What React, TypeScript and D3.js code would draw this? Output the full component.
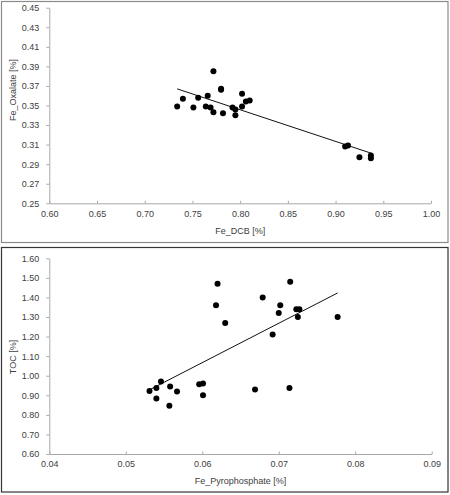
import React, { useEffect, useRef } from 'react';
import * as d3 from 'd3';

// Panel 1: Fe_DCB vs Fe_Oxalate
const dcb = [0.734, 0.740, 0.751, 0.756, 0.766, 0.764, 0.769, 0.772, 0.772, 0.780, 0.780, 0.782, 0.792, 0.795, 0.795, 0.802, 0.802, 0.806, 0.810, 0.910, 0.913, 0.925, 0.937, 0.937];
const oxalate = [0.349, 0.357, 0.348, 0.358, 0.360, 0.349, 0.348, 0.343, 0.385, 0.367, 0.366, 0.342, 0.348, 0.346, 0.340, 0.362, 0.349, 0.354, 0.355, 0.308, 0.309, 0.297, 0.299, 0.296];
const trend1X = [0.734, 0.938];
const trend1Y = [0.367, 0.301];
const xTicks1 = [0.60, 0.65, 0.70, 0.75, 0.80, 0.85, 0.90, 0.95, 1.00];
const yTicks1 = [0.25, 0.27, 0.29, 0.31, 0.33, 0.35, 0.37, 0.39, 0.41, 0.43, 0.45];

// Panel 2: Fe_Pyrophosphate vs TOC
const pyro = [0.0531, 0.0540, 0.0540, 0.0546, 0.0558, 0.0557, 0.0567, 0.0596, 0.0601, 0.0601, 0.0620, 0.0618, 0.0630, 0.0669, 0.0679, 0.0692, 0.0700, 0.0702, 0.0715, 0.0714, 0.0723, 0.0727, 0.0725, 0.0777];
const toc = [0.922, 0.937, 0.883, 0.970, 0.945, 0.847, 0.919, 0.956, 0.960, 0.900, 1.470, 1.360, 1.270, 0.930, 1.400, 1.210, 1.320, 1.360, 1.480, 0.937, 1.340, 1.340, 1.300, 1.300];
const trend2X = [0.0532, 0.0777];
const trend2Y = [0.930, 1.423];
const xTicks2 = [0.04, 0.05, 0.06, 0.07, 0.08, 0.09];
const yTicks2 = [0.60, 0.70, 0.80, 0.90, 1.00, 1.10, 1.20, 1.30, 1.40, 1.50, 1.60];

const FONT = '"Liberation Sans", Arial, sans-serif';

const App = () => {
  const svgRef = useRef<SVGSVGElement>(null);

  useEffect(() => {
    const svg = d3.select(svgRef.current);
    svg.selectAll('*').remove();

    const drawPanel = (opts: any) => {
      const { box, xDomain, yDomain, xRange, yRange, xs, ys, tx, ty, xTicks, yTicks, xFmt, yFmt, xTitle, yTitle, xTitleY, yTitleY, border } = opts;
      const g = svg.append('g');

      g.append('rect')
        .attr('x', box[0]).attr('y', box[1]).attr('width', box[2]).attr('height', box[3])
        .attr('fill', 'white').attr('stroke', border).attr('stroke-width', 1.2);

      const x = d3.scaleLinear().domain(xDomain).range(xRange);
      const y = d3.scaleLinear().domain(yDomain).range(yRange);

      const xAxis = g.append('g')
        .attr('transform', `translate(0,${yRange[0]})`)
        .call(d3.axisBottom(x).tickValues(xTicks).tickFormat(xFmt).tickSizeInner(-2.5).tickSizeOuter(0).tickPadding(7));
      const yAxis = g.append('g')
        .attr('transform', `translate(${xRange[0]},0)`)
        .call(d3.axisLeft(y).tickValues(yTicks).tickFormat(yFmt).tickSizeInner(3).tickSizeOuter(0).tickPadding(7));

      [xAxis, yAxis].forEach(a => {
        a.select('.domain').attr('stroke', '#a8a8a8').attr('stroke-width', 1);
        a.selectAll('.tick line').attr('stroke', '#a8a8a8');
        a.selectAll('.tick text').attr('fill', '#404040').style('font-family', FONT).style('font-size', '9px');
      });

      g.append('line')
        .attr('x1', x(tx[0])).attr('y1', y(ty[0]))
        .attr('x2', x(tx[1])).attr('y2', y(ty[1]))
        .attr('stroke', '#111').attr('stroke-width', 1);

      g.append('g')
        .selectAll('circle')
        .data(d3.range(xs.length))
        .join('circle')
        .attr('cx', i => x(xs[i]))
        .attr('cy', i => y(ys[i]))
        .attr('r', 3)
        .attr('fill', '#000');

      g.append('text')
        .attr('x', (xRange[0] + xRange[1]) / 2)
        .attr('y', xTitleY)
        .attr('text-anchor', 'middle')
        .attr('fill', '#404040')
        .style('font-family', FONT).style('font-size', '9px')
        .text(xTitle);

      g.append('text')
        .attr('transform', `translate(16,${yTitleY}) rotate(-90)`)
        .attr('text-anchor', 'middle')
        .attr('fill', '#404040')
        .style('font-family', FONT).style('font-size', '9px')
        .text(yTitle);
    };

    drawPanel({
      box: [1.5, 1.5, 446.5, 241],
      xDomain: [0.6, 1.0], yDomain: [0.25, 0.45],
      xRange: [49.3, 431], yRange: [203.3, 7.7],
      xs: dcb, ys: oxalate, tx: trend1X, ty: trend1Y,
      xTicks: xTicks1, yTicks: yTicks1,
      xFmt: d3.format('.2f'), yFmt: d3.format('.2f'),
      xTitle: 'Fe_DCB [%]', yTitle: 'Fe_Oxalate [%]',
      xTitleY: 233.5, yTitleY: 90, border: '#8a8a8a',
    });

    drawPanel({
      box: [1.5, 247.5, 446.5, 244.5],
      xDomain: [0.04, 0.09], yDomain: [0.6, 1.6],
      xRange: [49.3, 431.7], yRange: [454, 258.3],
      xs: pyro, ys: toc, tx: trend2X, ty: trend2Y,
      xTicks: xTicks2, yTicks: yTicks2,
      xFmt: d3.format('.2f'), yFmt: d3.format('.2f'),
      xTitle: 'Fe_Pyrophosphate  [%]', yTitle: 'TOC [%]',
      xTitleY: 484, yTitleY: 357, border: '#333',
    });
  }, []);

  return (
    <svg ref={svgRef} width={450} height={495}
      style={{ position: 'absolute', left: 0, top: 0, background: 'white' }} />
  );
};

export default App;
